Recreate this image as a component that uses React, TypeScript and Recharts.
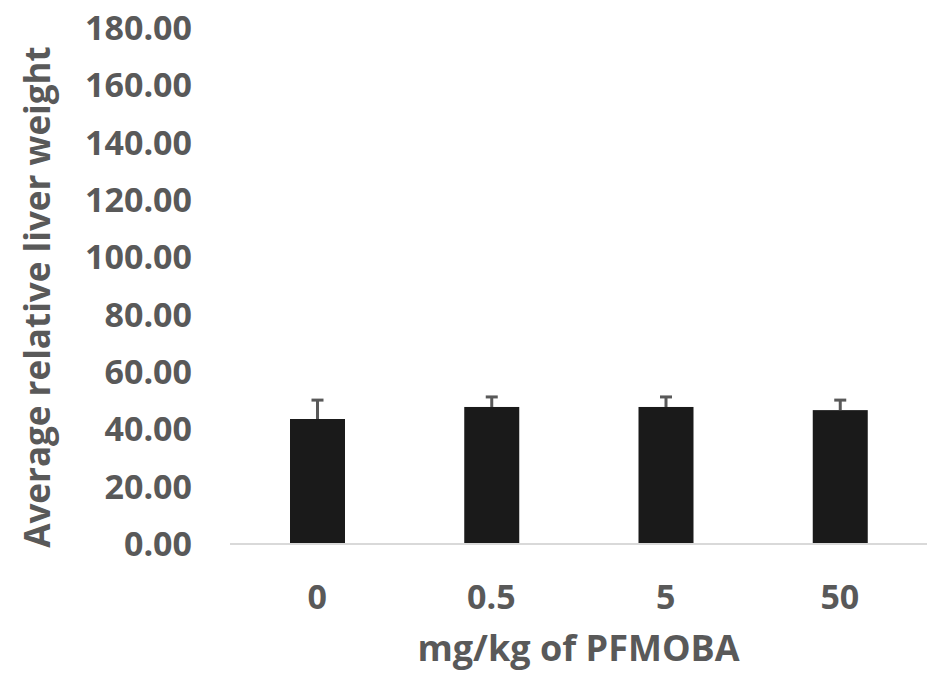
import React from "react";
import { BarChart, Bar, XAxis, YAxis, Label } from "recharts";

const doses = ["0", "0.5", "5", "50"];
const liverWeight = [43.6, 47.8, 47.8, 46.7];
const liverErr = [6.6, 3.5, 3.5, 3.5];
const yTicks = [0, 20, 40, 60, 80, 100, 120, 140, 160, 180];

const data = doses.map((d, i) => ({ dose: d, value: liverWeight[i], err: liverErr[i] }));

const FONT = "'Open Sans', 'DejaVu Sans', sans-serif";
const GREY = "#595959";

// bar plus an upper-only error whisker, scaled from the bar's own px/unit
function BarWithError(props: any) {
  const { x, y, width, height, payload } = props;
  const pxPerUnit = payload.value ? height / payload.value : 0;
  const errPx = payload.err * pxPerUnit;
  const cx = x + width / 2;
  return (
    <g>
      <rect x={x} y={y} width={width} height={height} fill="#1a1a1a" />
      <line x1={cx} x2={cx} y1={y} y2={y - errPx} stroke={GREY} strokeWidth={3} />
      <line x1={cx - 6} x2={cx + 6} y1={y - errPx} y2={y - errPx} stroke={GREY} strokeWidth={3} />
    </g>
  );
}

export default function App() {
  return (
    <div style={{ position: "absolute", left: 0, top: 0, background: "#fff" }}>
      <BarChart
        width={933}
        height={673}
        data={data}
        margin={{ top: 28, right: 6, left: 0, bottom: 99 }}
      >
        <XAxis
          dataKey="dose"
          height={30}
          axisLine={{ stroke: "#d9d9d9", strokeWidth: 2 }}
          tickLine={false}
          tickSize={0}
          tickMargin={41}
          tick={{ fill: GREY, fontSize: 34, fontWeight: 700, fontFamily: FONT }}
        >
          <Label
            content={({ viewBox }: any) => (
              <text
                x={viewBox.x + viewBox.width / 2}
                y={661}
                textAnchor="middle"
                fill={GREY}
                fontSize={36}
                fontWeight={700}
                fontFamily={FONT}
              >
                mg/kg of PFMOBA
              </text>
            )}
          />
        </XAxis>
        <YAxis
          width={230}
          domain={[0, 180]}
          ticks={yTicks}
          interval={0}
          axisLine={false}
          tickLine={false}
          tickSize={0}
          tickMargin={38}
          tickFormatter={(v: number) => v.toFixed(2)}
          tick={{ fill: GREY, fontSize: 34, fontWeight: 700, fontFamily: FONT }}
        >
          <Label
            content={() => (
              <text
                x={50}
                y={297}
                transform="rotate(-90, 50, 297)"
                textAnchor="middle"
                fill={GREY}
                fontSize={35}
                fontWeight={700}
                fontFamily={FONT}
              >
                Average relative liver weight
              </text>
            )}
          />
        </YAxis>
        <Bar dataKey="value" barSize={55} shape={<BarWithError />} isAnimationActive={false} />
      </BarChart>
    </div>
  );
}
